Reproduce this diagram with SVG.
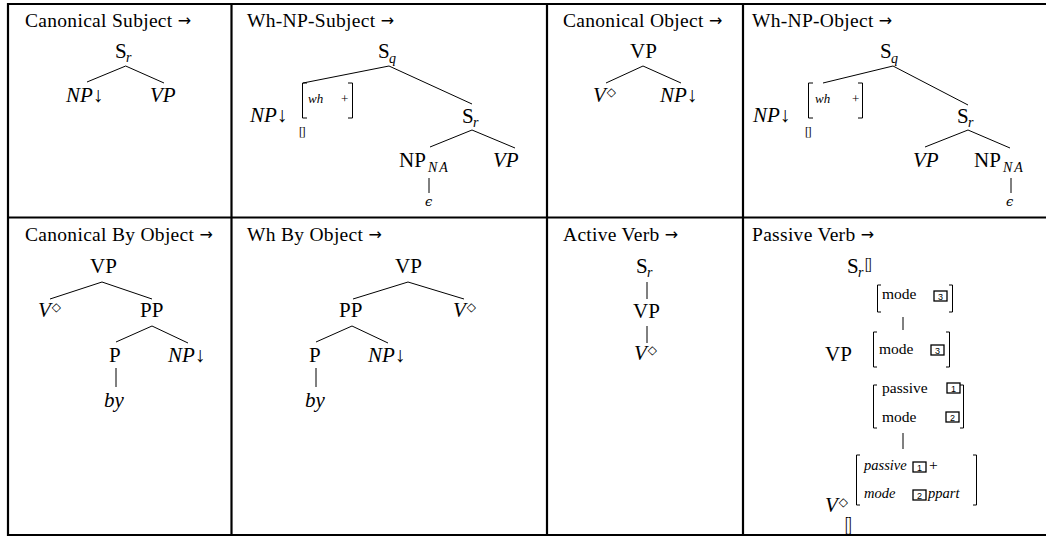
<svg xmlns="http://www.w3.org/2000/svg" width="1046" height="536" viewBox="0 0 1046 536">
<style>
text { font-family: "Liberation Serif", "Times New Roman", serif; fill: #000; }
.t { font-size: 19.5px; letter-spacing: 0.3px; }
.ar { font-family: "DejaVu Sans", sans-serif; font-size: 16px; letter-spacing: 0; }
.n { font-size: 21px; }
.i { font-style: italic; }
.s { font-size: 14px; font-style: italic; }
.na { font-size: 14px; font-style: italic; letter-spacing: 2px; }
.f { font-size: 15.5px; }
.fi { font-size: 14.5px; font-style: italic; }
.fs { font-size: 13px; }
.eps { font-family: "DejaVu Serif", serif; font-size: 13px; font-style: italic; }
.dm { font-family: "DejaVu Sans", sans-serif; font-size: 12px; font-style: normal; }
.eb { font-size: 11.5px; letter-spacing: -1px; }
.bn { font-family: "Liberation Sans", sans-serif; font-size: 9px; text-anchor: middle; }
.grid line { stroke: #000; stroke-width: 2.2; }
.e line { stroke: #000; stroke-width: 1; }
.br { stroke: #000; stroke-width: 1; fill: none; }
.bx { stroke: #000; stroke-width: 1.3; fill: #fff; }
</style>

<g id="table" class="grid">
  <line x1="7" y1="4" x2="1046" y2="4"/>
  <line x1="7" y1="217.5" x2="1046" y2="217.5"/>
  <line x1="7" y1="535" x2="1046" y2="535"/>
  <line x1="8" y1="3" x2="8" y2="536"/>
  <line x1="231.5" y1="3" x2="231.5" y2="536"/>
  <line x1="547" y1="3" x2="547" y2="536"/>
  <line x1="743" y1="3" x2="743" y2="536"/>
</g>

<g id="titles" class="t">
  <text id="title-canonical-subject" x="25" y="27">Canonical Subject <tspan class="ar" dy="-1">→</tspan></text>
  <text id="title-wh-np-subject" x="247" y="27">Wh-NP-Subject <tspan class="ar" dy="-1">→</tspan></text>
  <text id="title-canonical-object" x="563" y="27">Canonical Object <tspan class="ar" dy="-1">→</tspan></text>
  <text id="title-wh-np-object" x="752" y="27">Wh-NP-Object <tspan class="ar" dy="-1">→</tspan></text>
  <text id="title-canonical-by-object" x="25" y="240.5">Canonical By Object <tspan class="ar" dy="-1">→</tspan></text>
  <text id="title-wh-by-object" x="247" y="240.5">Wh By Object <tspan class="ar" dy="-1">→</tspan></text>
  <text id="title-active-verb" x="563" y="240.5">Active Verb <tspan class="ar" dy="-1">→</tspan></text>
  <text id="title-passive-verb" x="752" y="240.5">Passive Verb <tspan class="ar" dy="-1">→</tspan></text>
</g>

<g id="connectors" class="e">
  <line x1="125.7" y1="66" x2="87" y2="82"/>
  <line x1="125.7" y1="66" x2="164" y2="83"/>
  <line x1="389" y1="66" x2="303" y2="83"/>
  <line x1="389" y1="66" x2="472" y2="104"/>
  <line x1="472" y1="130" x2="430" y2="147"/>
  <line x1="472" y1="130" x2="515" y2="148"/>
  <line x1="429" y1="178" x2="429" y2="193"/>
  <line x1="643" y1="66" x2="606" y2="83"/>
  <line x1="643" y1="66" x2="681" y2="83"/>
  <line x1="893" y1="66" x2="823" y2="83"/>
  <line x1="893" y1="66" x2="968" y2="105"/>
  <line x1="968" y1="130" x2="925" y2="147"/>
  <line x1="968" y1="130" x2="1010" y2="148"/>
  <line x1="1011" y1="178" x2="1011" y2="193"/>
  <line x1="102" y1="282" x2="50" y2="299"/>
  <line x1="102" y1="282" x2="152" y2="299"/>
  <line x1="152" y1="326" x2="116" y2="342"/>
  <line x1="152" y1="326" x2="188" y2="343"/>
  <line x1="116" y1="368" x2="116" y2="387"/>
  <line x1="408" y1="282" x2="353" y2="299"/>
  <line x1="408" y1="282" x2="464" y2="299"/>
  <line x1="352" y1="326" x2="316" y2="342"/>
  <line x1="352" y1="326" x2="388" y2="343"/>
  <line x1="316" y1="368" x2="316" y2="387"/>
  <line x1="647" y1="282" x2="647" y2="299"/>
  <line x1="647" y1="326" x2="647" y2="343"/>
  <line x1="903" y1="317" x2="903" y2="330"/>
  <line x1="903" y1="433" x2="903" y2="449"/>
</g>

<!-- Panel 1: Canonical Subject -->
<g id="p1-Sr"><text class="n" x="115" y="58">S</text><text class="s" x="126" y="62">r</text></g>
<g id="p1-NP"><text class="n" x="66" y="101.5"><tspan class="i">NP</tspan>↓</text></g>
<g id="p1-VP"><text class="n i" x="150" y="101.5">VP</text></g>

<!-- Panel 2: Wh-NP-Subject -->
<g id="p2-Sq"><text class="n" x="378" y="58">S</text><text class="s" x="389" y="63">q</text></g>
<g id="p2-NP">
  <text class="n" x="250" y="122"><tspan class="i">NP</tspan>↓</text>
  <path class="br" d="M307,83 H302.5 V118 H307"/>
  <path class="br" d="M348,83 H352.5 V118 H348"/>
  <text class="fs i" x="308" y="103">wh</text>
  <text class="fs" x="341" y="103">+</text>
  <text class="eb" x="299" y="136">[]</text>
</g>
<g id="p2-Sr"><text class="n" x="462" y="123">S</text><text class="s" x="473" y="127">r</text></g>
<g id="p2-NPNA"><text class="n" x="399" y="167">NP</text><text class="na" x="428" y="172">NA</text></g>
<g id="p2-VP"><text class="n i" x="493" y="167">VP</text></g>
<g id="p2-eps"><text class="eps" x="425" y="206">ϵ</text></g>

<!-- Panel 3: Canonical Object -->
<g id="p3-VP"><text class="n" x="630" y="58">VP</text></g>
<g id="p3-V"><text class="n" x="593" y="101.5"><tspan class="i">V</tspan><tspan class="dm" dx="1" dy="-6">◇</tspan></text></g>
<g id="p3-NP"><text class="n" x="660" y="101.5"><tspan class="i">NP</tspan>↓</text></g>

<!-- Panel 4: Wh-NP-Object -->
<g id="p4-Sq"><text class="n" x="880" y="58">S</text><text class="s" x="891" y="63">q</text></g>
<g id="p4-NP">
  <text class="n" x="753" y="122"><tspan class="i">NP</tspan>↓</text>
  <path class="br" d="M813,83 H808.5 V118 H813"/>
  <path class="br" d="M858,83 H862.5 V118 H858"/>
  <text class="fs i" x="815" y="103">wh</text>
  <text class="fs" x="852" y="103">+</text>
  <text class="eb" x="805" y="136">[]</text>
</g>
<g id="p4-Sr"><text class="n" x="957" y="123">S</text><text class="s" x="968" y="127">r</text></g>
<g id="p4-VP"><text class="n i" x="913" y="167">VP</text></g>
<g id="p4-NPNA"><text class="n" x="974" y="167">NP</text><text class="na" x="1003" y="172">NA</text></g>
<g id="p4-eps"><text class="eps" x="1006" y="206">ϵ</text></g>

<!-- Panel 5: Canonical By Object -->
<g id="p5-VP"><text class="n" x="90" y="273">VP</text></g>
<g id="p5-V"><text class="n" x="38" y="317"><tspan class="i">V</tspan><tspan class="dm" dx="1" dy="-6">◇</tspan></text></g>
<g id="p5-PP"><text class="n" x="140" y="317">PP</text></g>
<g id="p5-P"><text class="n" x="109" y="362">P</text></g>
<g id="p5-NP"><text class="n" x="168" y="362"><tspan class="i">NP</tspan>↓</text></g>
<g id="p5-by"><text class="n i" x="104" y="407">by</text></g>

<!-- Panel 6: Wh By Object -->
<g id="p6-VP"><text class="n" x="395" y="273">VP</text></g>
<g id="p6-PP"><text class="n" x="339" y="317">PP</text></g>
<g id="p6-V"><text class="n" x="453" y="317"><tspan class="i">V</tspan><tspan class="dm" dx="1" dy="-6">◇</tspan></text></g>
<g id="p6-P"><text class="n" x="309" y="362">P</text></g>
<g id="p6-NP"><text class="n" x="368" y="362"><tspan class="i">NP</tspan>↓</text></g>
<g id="p6-by"><text class="n i" x="305" y="407">by</text></g>

<!-- Panel 7: Active Verb -->
<g id="p7-Sr"><text class="n" x="636" y="273">S</text><text class="s" x="647" y="277">r</text></g>
<g id="p7-VP"><text class="n" x="633" y="318">VP</text></g>
<g id="p7-V"><text class="n" x="634" y="360"><tspan class="i">V</tspan><tspan class="dm" dx="1" dy="-6">◇</tspan></text></g>

<!-- Panel 8: Passive Verb -->
<g id="p8-Sr">
  <text class="n" x="847" y="273">S</text><text class="s" x="858" y="277">r</text>
  <text class="eb" transform="translate(865,270) scale(1,1.5)" x="0" y="0">[]</text>
  <path class="br" d="M881,285 H877.5 V312 H881"/>
  <path class="br" d="M949,285 H952.5 V312 H949"/>
  <text class="f" x="882" y="299">mode</text>
  <rect class="bx" x="934" y="291" width="13" height="10"/>
  <text class="bn" x="940.5" y="299.5">3</text>
</g>
<g id="p8-VP">
  <text class="n" x="825" y="361" font-size="23">VP</text>
  <path class="br" d="M877,332 H873.5 V367 H877"/>
  <path class="br" d="M946,332 H949.5 V367 H946"/>
  <text class="f" x="879" y="354">mode</text>
  <rect class="bx" x="931" y="345" width="13" height="10"/>
  <text class="bn" x="937.5" y="353.5">3</text>
  <path class="br" d="M877,385 H873.5 V428 H877"/>
  <path class="br" d="M960,385 H963.5 V428 H960"/>
  <text class="f" x="882" y="393">passive</text>
  <rect class="bx" x="947" y="383" width="13" height="10"/>
  <text class="bn" x="953.5" y="391.5">1</text>
  <text class="f" x="882" y="422">mode</text>
  <rect class="bx" x="946" y="412" width="13" height="10"/>
  <text class="bn" x="952.5" y="420.5">2</text>
</g>
<g id="p8-V">
  <path class="br" d="M860,455 H856.5 V505 H860"/>
  <path class="br" d="M973,455 H976.5 V505 H973"/>
  <text class="fi" x="864" y="470">passive</text>
  <rect class="bx" x="913" y="462" width="13" height="10"/>
  <text class="bn" x="919.5" y="470.5">1</text>
  <text class="f" x="929" y="470">+</text>
  <text class="fi" x="864" y="498">mode</text>
  <rect class="bx" x="913" y="490" width="13" height="10"/>
  <text class="bn" x="919.5" y="498.5">2</text>
  <text class="fi" x="928" y="498" font-size="15.5">ppart</text>
  <text class="n" x="825" y="512"><tspan class="i">V</tspan><tspan class="dm" dx="1" dy="-6">◇</tspan></text>
  <text class="eb" transform="translate(845,531) scale(1,1.9)" x="0" y="0">[]</text>
</g>
</svg>
